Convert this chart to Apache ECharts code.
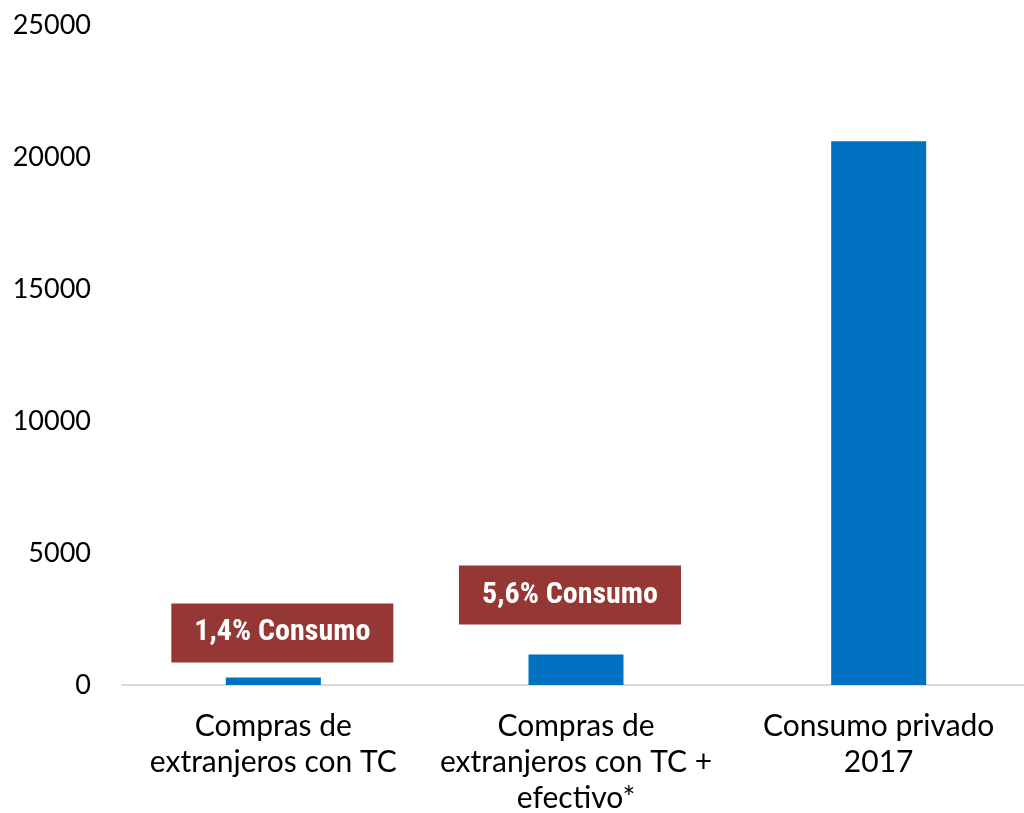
<!DOCTYPE html>
<html>
<head>
<meta charset="utf-8">
<script src="https://cdn.jsdelivr.net/npm/echarts@6/dist/echarts.min.js"></script>
<style>
  html, body { margin: 0; padding: 0; background: #fff; }
  #chart { width: 1024px; height: 813px; }
</style>
</head>
<body>
<div id="chart"></div>
<script>
// Categories, values and share-of-consumption labels
const categories = [
  'Compras de\nextranjeros con TC',
  'Compras de\nextranjeros con TC +\nefectivo*',
  'Consumo privado\n2017'
];
const values = [288, 1154, 20600];
const shareLabels = ['1,4% Consumo', '5,6% Consumo', null];
const yTicks = [0, 5000, 10000, 15000, 20000, 25000];

// Gap between each label box and the top of its bar, and horizontal nudge
const labelLift = [-15, -30, 0];
const labelShiftX = [9, -6, 0];

const chart = echarts.init(document.getElementById('chart'), null, { renderer: 'canvas' });

const seriesData = values.map((v, i) => {
  const item = { value: v };
  if (shareLabels[i]) {
    item.label = {
      show: true,
      position: 'top',
      distance: 0,
      offset: [labelShiftX[i], labelLift[i]],
      formatter: shareLabels[i],
      backgroundColor: '#953735',
      color: '#ffffff',
      fontFamily: '"Roboto Condensed", "Liberation Sans Narrow", "DejaVu Sans Condensed", sans-serif',
      fontWeight: 'bold',
      fontSize: 30,
      width: 222,
      height: 59,
      lineHeight: 59,
      align: 'center',
      verticalAlign: 'bottom'
    };
  }
  return item;
});

chart.setOption({
  animation: false,
  // plot runs slightly past the right edge of the canvas
  grid: { left: 122, width: 908, top: 25, bottom: 128, containLabel: false, outerBoundsMode: 'none' },
  xAxis: {
    type: 'category',
    data: categories,
    axisLine: { show: true, lineStyle: { color: '#d9d9d9', width: 2 } },
    axisTick: { show: false },
    axisLabel: {
      interval: 0,
      margin: 23,
      color: '#000',
      fontFamily: 'Lato, "Open Sans", sans-serif',
      fontSize: 30,
      lineHeight: 36
    }
  },
  yAxis: {
    type: 'value',
    min: yTicks[0],
    max: yTicks[yTicks.length - 1],
    interval: yTicks[1] - yTicks[0],
    splitLine: { show: false },
    axisLine: { show: false },
    axisTick: { show: false },
    axisLabel: {
      margin: 31,
      color: '#000',
      fontFamily: 'Lato, "Open Sans", sans-serif',
      fontSize: 27,
      align: 'right',
      formatter: v => String(v)
    }
  },
  series: [{
    type: 'bar',
    data: seriesData,
    barWidth: 95,
    itemStyle: { color: '#0070c0' },
    label: { show: false }
  }]
});
</script>
</body>
</html>
